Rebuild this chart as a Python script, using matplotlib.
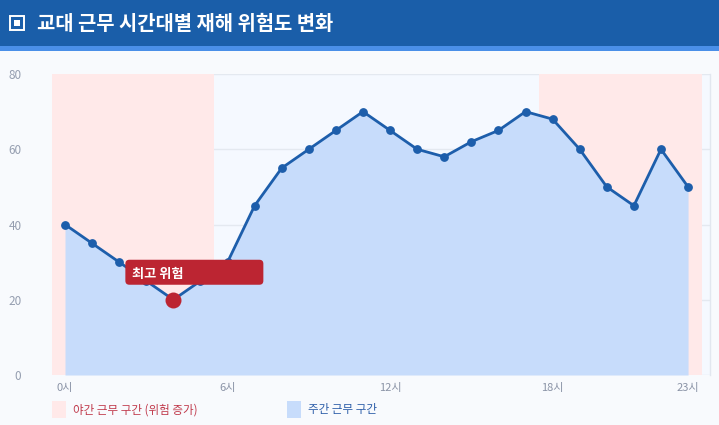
import numpy as np
import matplotlib
matplotlib.use('Agg')
import matplotlib.pyplot as plt
import matplotlib.transforms as mtransforms
from matplotlib.patches import FancyBboxPatch, Rectangle

plt.rcParams['font.family'] = ['Noto Sans CJK KR', 'DejaVu Sans']

# 데이터
hours = list(range(24))
risk = [40, 35, 30, 25, 20, 25, 30, 45, 55, 60, 65, 70,
        65, 60, 58, 62, 65, 70, 68, 60, 50, 45, 60, 50]
night_bands = [(-0.5, 5.5), (17.5, 23.5)]
xtick_hours = [0, 6, 12, 18, 23]
xtick_labels = ['0시', '6시', '12시', '18시', '23시']
yticks = [0, 20, 40, 60, 80]
title = '교대 근무 시간대별 재해 위험도 변화'
peak_label = '최고 위험'
legend_labels = ['야간 근무 구간 (위험 증가)', '주간 근무 구간']

BLUE = '#1d5eab'
FILL = '#c7dcfb'
PINK = '#ffe9e9'
RED = '#bc2532'

fig = plt.figure(figsize=(7.19, 4.25), dpi=100)
fig.patch.set_facecolor('#f8fafd')

# 제목 바
fig.patches.append(Rectangle((0, 1 - 46 / 425), 1, 46 / 425, transform=fig.transFigure,
                             facecolor='#1a5ea9', edgecolor='none', zorder=0))
fig.patches.append(Rectangle((0, 1 - 51 / 425), 1, 5 / 425, transform=fig.transFigure,
                             facecolor='#4a8fe8', edgecolor='none', zorder=0))
# 아이콘
fig.patches.append(Rectangle((10 / 719, 1 - 30 / 425), 14 / 719, 14 / 425,
                             transform=fig.transFigure, facecolor='none',
                             edgecolor='white', linewidth=1.4, zorder=2))
fig.patches.append(Rectangle((14 / 719, 1 - 26 / 425), 6 / 719, 6 / 425,
                             transform=fig.transFigure, facecolor='white',
                             edgecolor='none', zorder=2))
fig.text(37 / 719, 1 - 23 / 425, title, color='white', fontsize=14.3,
         fontweight='bold', va='center', ha='left')

ax = fig.add_axes([52 / 719, 1 - 375 / 425, 658 / 719, 301 / 425])
ax.set_facecolor('#f5f9ff')
ax.set_axisbelow(True)

for lo, hi in night_bands:
    ax.axvspan(lo, hi, color=PINK, zorder=0.8, linewidth=0)

ax.fill_between(hours, risk, 0, color=FILL, zorder=1, linewidth=0)
ax.plot(hours, risk, color=BLUE, linewidth=2.0, marker='o', markersize=5.3,
        zorder=3)

# 최고 위험 포인트
i_min = int(np.argmin(risk))
ax.plot(hours[i_min], risk[i_min], 'o', color=RED, markersize=11.5, zorder=4,
        markeredgewidth=0)

off = mtransforms.ScaledTranslation(hours[i_min], risk[i_min], ax.transData)
trans = fig.dpi_scale_trans + off
box = FancyBboxPatch((-0.46, 0.17), 1.34, 0.21,
                     boxstyle='round,pad=0.02,rounding_size=0.04',
                     transform=trans, facecolor=RED, edgecolor='none',
                     zorder=5, clip_on=False)
ax.add_patch(box)
ax.text(-0.41, 0.262, peak_label, transform=trans, color='white', fontsize=9.5,
        fontweight='bold', va='center', ha='left', zorder=6)

ax.set_xlim(-0.48, 23.81)
ax.set_ylim(0, 80)
ax.set_yticks(yticks)
ax.set_xticks(xtick_hours)
ax.set_xticklabels(xtick_labels)
ax.tick_params(axis='x', length=0, pad=6, labelsize=8, labelcolor='#8a93a6')
ax.tick_params(axis='y', length=0, pad=22, labelsize=8.5, labelcolor='#959eb0')
ax.grid(axis='y', color='#e4e9f0', linewidth=1)
for s in ['top', 'left', 'bottom']:
    ax.spines[s].set_visible(False)
ax.spines['right'].set_color('#e2e7ef')
ax.spines['right'].set_linewidth(1)

# 범례
legend_colors = [PINK, FILL]
legend_text_colors = ['#c0394b', '#2a5ca8']
legend_x = [52, 287]
for lx, col, tcol, lab in zip(legend_x, legend_colors, legend_text_colors, legend_labels):
    fig.patches.append(Rectangle((lx / 719, 1 - 418 / 425), 14 / 719, 17 / 425,
                                 transform=fig.transFigure, facecolor=col,
                                 edgecolor='none'))
    fig.text((lx + 21) / 719, 1 - 410 / 425, lab, color=tcol, fontsize=8.3,
             va='center', ha='left')

fig.savefig('out.png', dpi=100, facecolor=fig.get_facecolor())
